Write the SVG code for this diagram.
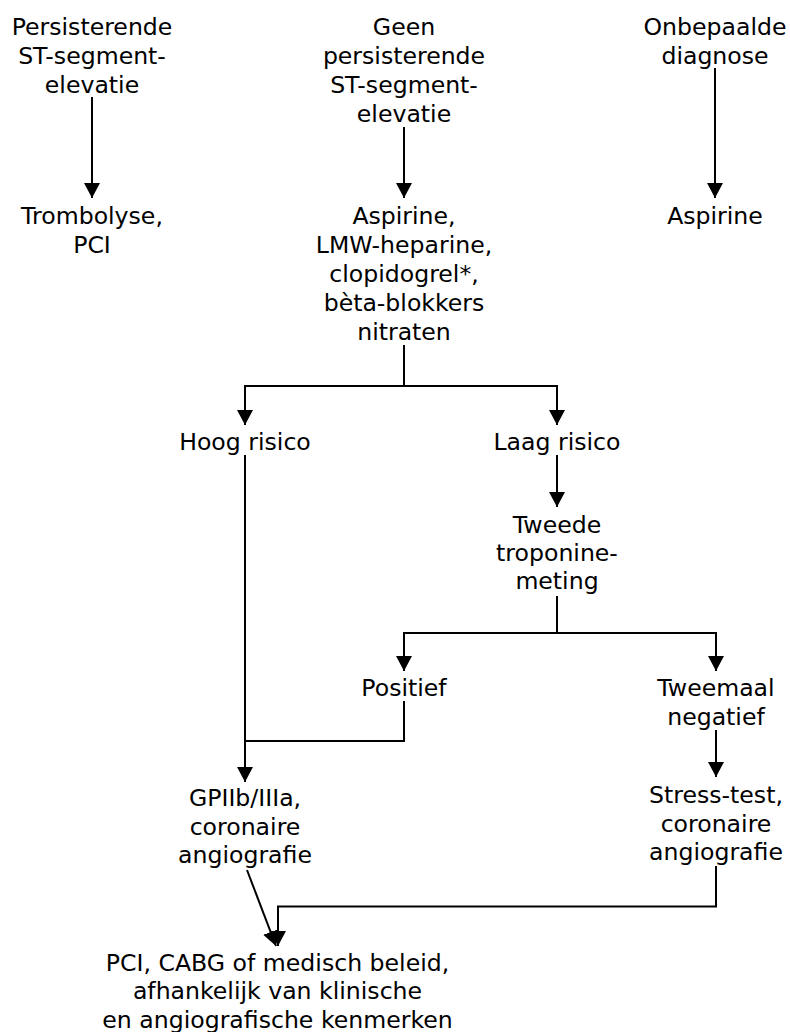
<svg xmlns="http://www.w3.org/2000/svg" width="790" height="1032" viewBox="0 0 790 1032">
<defs>
<style>
text{font-family:"DejaVu Sans",Verdana,sans-serif;font-size:23.6px;fill:#000;text-anchor:middle}
.c{fill:none;stroke:#000;stroke-width:2}
</style>
<marker id="ah" markerUnits="userSpaceOnUse" markerWidth="16" markerHeight="16" refX="15" refY="8" orient="auto" viewBox="0 0 16 16">
<path d="M0,0 L15,8 L0,16 z" fill="#000"/>
</marker>
</defs>
<rect width="790" height="1032" fill="#fff"/>
<g id="connectors">
<path class="c" d="M92,97 V198" marker-end="url(#ah)"/>
<path class="c" d="M404,127 V198" marker-end="url(#ah)"/>
<path class="c" d="M715,68 V198" marker-end="url(#ah)"/>
<path class="c" d="M404,345 V386"/>
<path class="c" d="M404,386 H245 V425" marker-end="url(#ah)"/>
<path class="c" d="M404,386 H557 V425" marker-end="url(#ah)"/>
<path class="c" d="M245,455 V782" marker-end="url(#ah)"/>
<path class="c" d="M557,455 V507" marker-end="url(#ah)"/>
<path class="c" d="M557,596 V633"/>
<path class="c" d="M557,633 H404 V671" marker-end="url(#ah)"/>
<path class="c" d="M557,633 H716 V671" marker-end="url(#ah)"/>
<path class="c" d="M404,701 V741 H245"/>
<path class="c" d="M716,730 V777" marker-end="url(#ah)"/>
<path class="c" d="M716,866 V906.5 H278 V946" marker-end="url(#ah)"/>
<path class="c" d="M247,870 L276,946" marker-end="url(#ah)"/>
</g>
<g id="n-persisterende"><text x="92" y="35">Persisterende</text><text x="92" y="64">ST-segment-</text><text x="92" y="93">elevatie</text></g>
<g id="n-geen"><text x="404" y="35">Geen</text><text x="404" y="64">persisterende</text><text x="404" y="93">ST-segment-</text><text x="404" y="122">elevatie</text></g>
<g id="n-onbepaald"><text x="715" y="35">Onbepaalde</text><text x="715" y="64">diagnose</text></g>
<g id="n-trombolyse"><text x="92" y="224">Trombolyse,</text><text x="92" y="253">PCI</text></g>
<g id="n-aspirine-combi"><text x="404" y="224">Aspirine,</text><text x="404" y="253">LMW-heparine,</text><text x="404" y="282">clopidogrel*,</text><text x="404" y="311">bèta-blokkers</text><text x="404" y="340">nitraten</text></g>
<g id="n-aspirine"><text x="715" y="224">Aspirine</text></g>
<g id="n-hoog"><text x="245" y="450">Hoog risico</text></g>
<g id="n-laag"><text x="557" y="450">Laag risico</text></g>
<g id="n-tweede"><text x="557" y="533">Tweede</text><text x="557" y="561">troponine-</text><text x="557" y="589">meting</text></g>
<g id="n-positief"><text x="404" y="696">Positief</text></g>
<g id="n-tweemaal"><text x="716" y="696">Tweemaal</text><text x="716" y="725">negatief</text></g>
<g id="n-gp"><text x="245" y="806">GPIIb/IIIa,</text><text x="245" y="835">coronaire</text><text x="245" y="863">angiografie</text></g>
<g id="n-stress"><text x="716" y="803">Stress-test,</text><text x="716" y="832">coronaire</text><text x="716" y="860">angiografie</text></g>
<g id="n-pci"><text x="277.5" y="970.5">PCI, CABG of medisch beleid,</text><text x="277.5" y="999">afhankelijk van klinische</text><text x="277.5" y="1027.5">en angiografische kenmerken</text></g>
</svg>
